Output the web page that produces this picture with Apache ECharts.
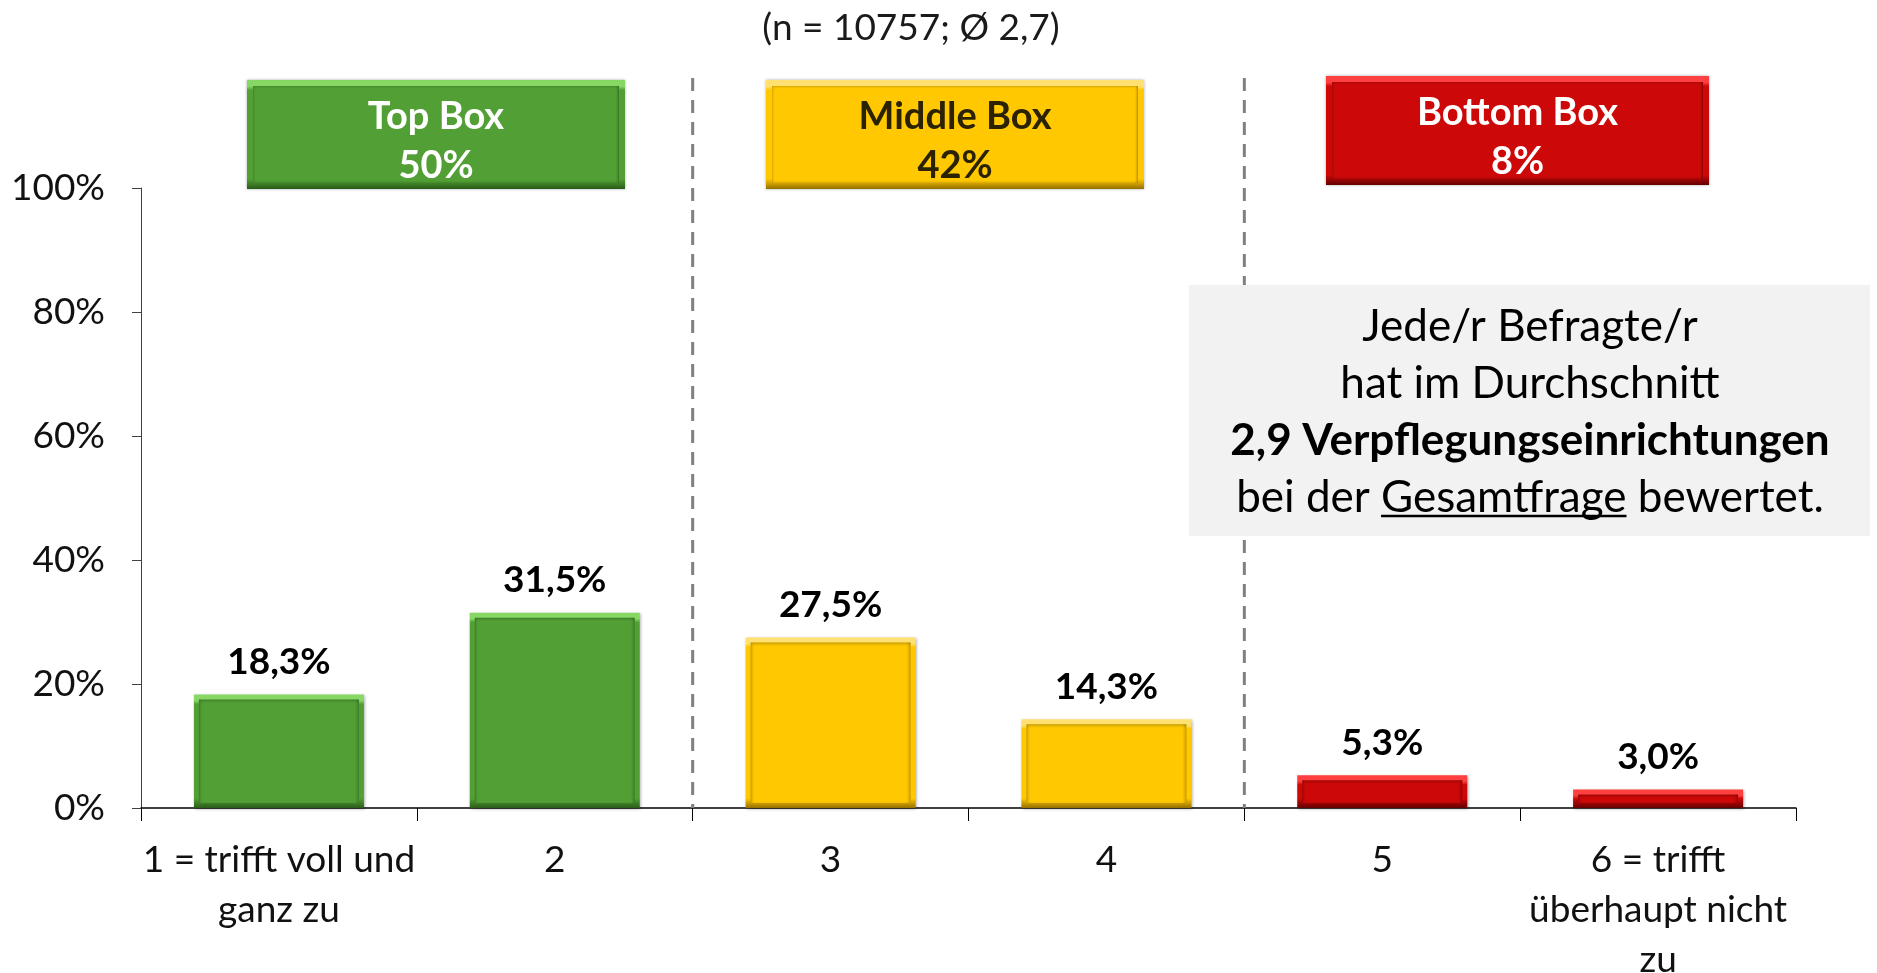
<!DOCTYPE html>
<html>
<head>
<meta charset="utf-8">
<script src="https://cdn.jsdelivr.net/npm/echarts@6/dist/echarts.min.js"></script>
<style>
  html, body { margin: 0; padding: 0; background: #fff; }
  #main { width: 1877px; height: 973px; }
</style>
</head>
<body>
<div id="main"></div>
<script>
// data
var categories = ['1 = trifft voll und\nganz zu', '2', '3', '4', '5', '6 = trifft\nüberhaupt nicht\nzu'];
var shares = [18.3, 31.5, 27.5, 14.3, 5.3, 3.0];
var yTicks = [0, 20, 40, 60, 80, 100];
var boxNames = ['Top Box', 'Middle Box', 'Bottom Box'];
var boxShares = [50, 42, 8];
var subtitle = '(n = 10757; Ø 2,7)';

// styles
var FONT = 'Lato, sans-serif';
var tones = {
  green:  { light: '#86d764', main: '#52a035', dark: '#2a5c18', text: '#ffffff' },
  yellow: { light: '#ffe070', main: '#ffc800', dark: '#946f00', text: '#2a2200' },
  red:    { light: '#ff4040', main: '#cc0808', dark: '#640000', text: '#ffffff' }
};
var barTones = ['green', 'green', 'yellow', 'yellow', 'red', 'red'];
var boxTones = ['green', 'yellow', 'red'];
var EDGE = 6;

function fmt(v) { return v.toFixed(1).replace('.', ',') + '%'; }

// light top / dark bottom edge, sized in pixels
function edgeV(t, h) {
  var e = Math.min(0.45, EDGE / h);
  return new echarts.graphic.LinearGradient(0, 0, 0, 1, [
    { offset: 0, color: t.light },
    { offset: e, color: t.light },
    { offset: Math.min(0.5, e * 1.6), color: t.main },
    { offset: Math.max(0.5, 1 - e * 1.6), color: t.main },
    { offset: 1, color: t.dark }
  ]);
}
// dark right edge in the fill
function fillH(t, w) {
  var e = EDGE / w;
  return new echarts.graphic.LinearGradient(0, 0, 1, 0, [
    { offset: 0, color: t.main },
    { offset: 1 - e * 1.5, color: t.main },
    { offset: 1, color: t.dark }
  ]);
}

var chart = echarts.init(document.getElementById('main'));

var BAR_W = 170;
var option = {
  animation: false,
  title: {
    text: subtitle,
    left: 906,
    textAlign: 'center',
    top: 5,
    textStyle: { fontFamily: FONT, fontSize: 37, fontWeight: 'normal', color: '#1a1a1a' }
  },
  grid: { left: 141, right: 81, top: 188, bottom: 165, containLabel: false, outerBoundsMode: 'none' },
  xAxis: {
    type: 'category',
    data: categories,
    axisLine: { lineStyle: { color: '#000', width: 1.5 } },
    axisTick: { show: true, alignWithLabel: false, length: 13, lineStyle: { color: '#000', width: 1 } },
    axisLabel: {
      margin: 27,
      fontFamily: FONT,
      fontSize: 37,
      lineHeight: 50,
      color: '#111',
      interval: 0
    }
  },
  yAxis: {
    type: 'value',
    min: 0,
    max: 100,
    interval: 20,
    axisLine: { show: true, lineStyle: { color: '#404040', width: 1 } },
    axisTick: { show: true, length: 9, lineStyle: { color: '#404040' } },
    splitLine: { show: false },
    axisLabel: {
      margin: 36,
      fontFamily: FONT,
      fontSize: 37,
      color: '#111',
      formatter: function (v) { return yTicks.indexOf(v) >= 0 ? v + '%' : ''; }
    }
  },
  series: [{
    type: 'bar',
    barWidth: BAR_W,
    data: shares,
    itemStyle: { color: '#52a035' },
    label: {
      show: true,
      position: 'top',
      distance: 14,
      fontFamily: FONT,
      fontSize: 37,
      fontWeight: 'bold',
      color: '#000',
      formatter: function (p) { return fmt(p.value); }
    }
  }]
};
chart.setOption(option);

// bevel styling needs the pixel height of every bar
var base = chart.convertToPixel({ yAxisIndex: 0 }, 0);
chart.setOption({
  series: [{
    data: shares.map(function (v, i) {
      var t = tones[barTones[i]];
      var h = base - chart.convertToPixel({ yAxisIndex: 0 }, v);
      return {
        value: v,
        itemStyle: {
          color: fillH(t, BAR_W),
          borderColor: edgeV(t, h),
          borderWidth: 5,
          shadowColor: 'rgba(0,0,0,0.3)',
          shadowBlur: 3,
          shadowOffsetX: 1,
          shadowOffsetY: 1
        }
      };
    })
  }]
});

// annotations: dashed group separators, box headers, info box
var c1 = chart.convertToPixel({ xAxisIndex: 0 }, categories[1]);
var c2 = chart.convertToPixel({ xAxisIndex: 0 }, categories[2]);
var c3 = chart.convertToPixel({ xAxisIndex: 0 }, categories[3]);
var c4 = chart.convertToPixel({ xAxisIndex: 0 }, categories[4]);
var sep = [(c1 + c2) / 2, (c3 + c4) / 2];

var graphics = [];
sep.forEach(function (x) {
  graphics.push({
    type: 'line', z: 1,
    shape: { x1: x, y1: 78, x2: x, y2: base },
    style: { stroke: '#808080', lineWidth: 3, lineDash: [13, 9] }
  });
});

var boxRects = [
  { x: 250, y: 83, w: 372, h: 103 },
  { x: 769, y: 83, w: 372, h: 103 },
  { x: 1329, y: 79, w: 377, h: 103 }
];
boxRects.forEach(function (r, i) {
  var t = tones[boxTones[i]];
  graphics.push({
    type: 'rect', z: 5,
    shape: { x: r.x, y: r.y, width: r.w, height: r.h },
    style: { fill: fillH(t, r.w), stroke: edgeV(t, r.h), lineWidth: 6, shadowBlur: 3, shadowColor: 'rgba(0,0,0,0.35)' }
  });
  graphics.push({
    type: 'text', z: 6,
    x: r.x + r.w / 2, y: r.y + r.h / 2 + 7,
    style: {
      text: boxNames[i] + '\n' + boxShares[i] + '%',
      fontFamily: FONT, fontSize: 38, fontWeight: 'bold', lineHeight: 49,
      fill: t.text, align: 'center', verticalAlign: 'middle'
    }
  });
});

// info box
var infoX = 1530, infoY = 412, infoSize = 44, infoLH = 57;
graphics.push({
  type: 'rect', z: 5,
  shape: { x: 1189, y: 285, width: 681, height: 251 },
  style: { fill: '#f2f2f2' }
});
graphics.push({
  type: 'text', z: 6,
  x: infoX, y: infoY,
  style: {
    text: 'Jede/r Befragte/r\nhat im Durchschnitt\n{b|2,9 Verpflegungseinrichtungen}\nbei der Gesamtfrage bewertet.',
    fontFamily: FONT, fontSize: infoSize, lineHeight: infoLH,
    fill: '#000', align: 'center', verticalAlign: 'middle',
    rich: { b: { fontFamily: FONT, fontSize: infoSize, fontWeight: 'bold', lineHeight: infoLH, fill: '#000' } }
  }
});
// underline under "Gesamtfrage"
var ctx = document.createElement('canvas').getContext('2d');
ctx.font = infoSize + 'px Lato';
var lineW = ctx.measureText('bei der Gesamtfrage bewertet.').width;
var preW = ctx.measureText('bei der ').width;
var wordW = ctx.measureText('Gesamtfrage').width;
var ux = infoX - lineW / 2 + preW;
var uy = infoY + 1.5 * infoLH + infoSize * 0.42;
graphics.push({
  type: 'line', z: 7,
  shape: { x1: ux, y1: uy, x2: ux + wordW, y2: uy },
  style: { stroke: '#000', lineWidth: 2.5 }
});

chart.setOption({ graphic: graphics });
</script>
</body>
</html>
